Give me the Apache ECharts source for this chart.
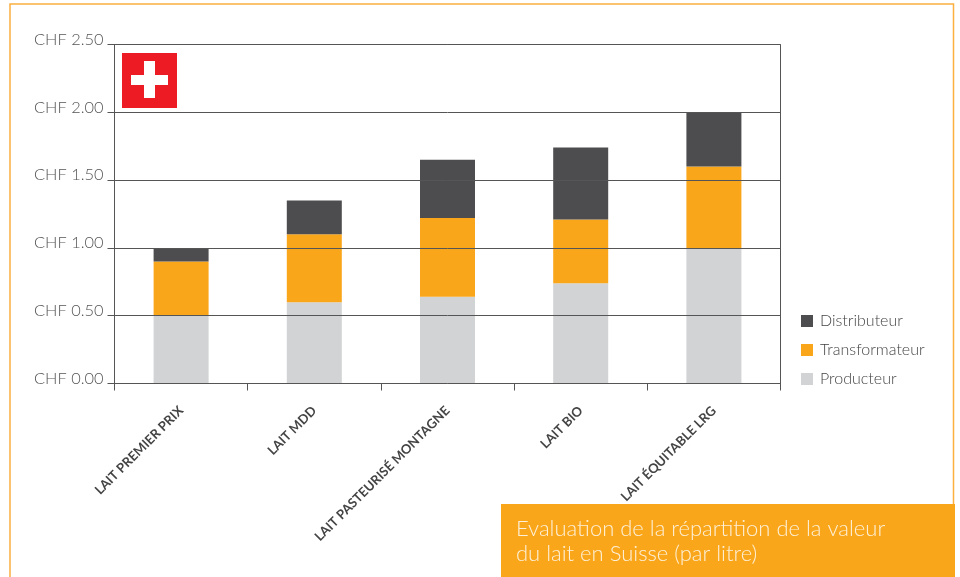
<!DOCTYPE html>
<html><head><meta charset="utf-8">
<style>html,body{margin:0;padding:0;background:#fff}#c{width:960px;height:577px}</style>
<script src="https://cdn.jsdelivr.net/npm/echarts@6/dist/echarts.min.js"></script></head>
<body><div id="c"></div>
<script>
const categories = ['LAIT PREMIER PRIX','LAIT MDD','LAIT PASTEURISÉ MONTAGNE','LAIT BIO','LAIT ÉQUITABLE LRG'];
const producteur = [0.50,0.60,0.64,0.74,1.00];
const transformateur = [0.40,0.50,0.58,0.47,0.60];
const distributeur = [0.10,0.25,0.43,0.53,0.40];
const titleLines = ['Evaluation de la répartition de la valeur','du lait en Suisse (par litre)'];
const font = 'Lato';
const chart = echarts.init(document.getElementById('c'), null, {renderer:'canvas'});
const mk = (name,data,color)=>({name,type:'bar',stack:'t',data,barWidth:55,itemStyle:{color},z:2});
chart.setOption({
  animation:false,
  backgroundColor:'#fff',
  textStyle:{fontFamily:font},
  grid:{left:114.5,right:179.5,top:44.5,bottom:193.5,show:true,borderColor:'#555',borderWidth:1,backgroundColor:'transparent'},
  legend:{orient:'vertical',left:801,top:313,padding:0,itemWidth:12,itemHeight:12,itemGap:13,icon:'rect',
    data:['Distributeur','Transformateur','Producteur'],selectedMode:false,
    textStyle:{fontFamily:font,fontWeight:300,fontSize:16,color:'#444',padding:[0,0,0,2]}},
  xAxis:{type:'category',data:categories,boundaryGap:true,
    axisLine:{lineStyle:{color:'#555',width:1}},
    axisTick:{show:true,length:7,alignWithLabel:false,lineStyle:{color:'#555'}},
    axisLabel:{interval:0,rotate:45,margin:25,verticalAlign:'middle',align:'right',fontFamily:font,fontWeight:'bold',fontSize:13,color:'#444'}},
  yAxis:{type:'value',min:0,max:2.5,interval:0.5,z:5,
    axisLine:{show:true,lineStyle:{color:'#555',width:1}},
    axisTick:{show:true,length:7,lineStyle:{color:'#555'}},
    splitLine:{show:true,lineStyle:{color:'#555',width:1}},
    axisLabel:{margin:11,fontFamily:font,fontWeight:300,fontSize:16.4,color:'#555',verticalAlign:'bottom',lineHeight:10,
      formatter:v=>'CHF '+v.toFixed(2)}},
  series:[mk('Producteur',producteur,'#d1d3d4'),mk('Transformateur',transformateur,'#faa61a'),mk('Distributeur',distributeur,'#4d4d4f')],
  graphic:[
    {type:'rect',shape:{x:10,y:4,width:943.5,height:600},style:{fill:'none',stroke:'#fbb040',lineWidth:1.5},silent:true,z:0},
    {type:'rect',shape:{x:122,y:53,width:55,height:55},style:{fill:'#ed1c24'},z:10},
    {type:'rect',shape:{x:131,y:75,width:37,height:10},style:{fill:'#fff'},z:11},
    {type:'rect',shape:{x:144,y:61,width:11,height:37},style:{fill:'#fff'},z:11},
    {type:'rect',shape:{x:501,y:504,width:454,height:73},style:{fill:'#faa61a'},z:10},
    {type:'text',x:516,y:518,z:11,style:{text:titleLines[0],fontFamily:font,fontWeight:300,fontSize:22,fill:'#fdf0d8'}},
    {type:'text',x:516,y:543,z:11,style:{text:titleLines[1],fontFamily:font,fontWeight:300,fontSize:22,fill:'#fdf0d8'}}
  ]
});
</script></body></html>
